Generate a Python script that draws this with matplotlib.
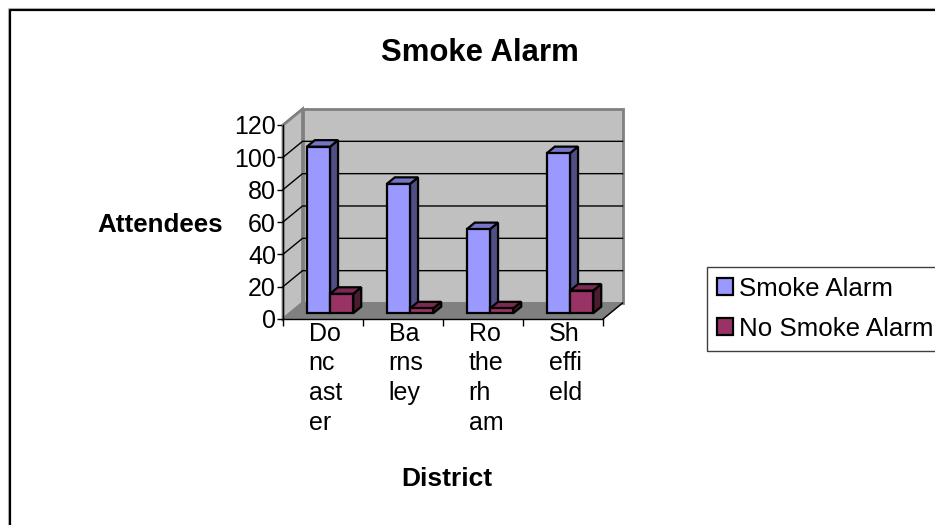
import matplotlib
matplotlib.use('Agg')
import matplotlib.pyplot as plt
from matplotlib.lines import Line2D
from matplotlib.patches import Patch, Polygon

plt.rcParams['font.family'] = ['Liberation Sans', 'DejaVu Sans']

district_labels = ['Do\nnc\nast\ner', 'Ba\nrns\nley', 'Ro\nthe\nrh\nam', 'Sh\neffi\neld']
smoke_alarm = [103, 80, 52, 99]
no_smoke_alarm = [12, 3, 3, 14]
y_ticks = [0, 20, 40, 60, 80, 100, 120]

W, H = 935, 525
# 3d look: how far the back wall sits from the front axis, in data units
DEPTH_X = 0.244
DEPTH_Y = 9.9
BAR_W = 0.29
BAR_D0 = 0.36
BAR_D1 = 0.77

BLUE = ('#9999FF', '#4F4F85', '#7575C6')
RED = ('#993366', '#4D1A33', '#7A2952')


def px_box(left, top, right, bottom):
    return [left / W, 1 - bottom / H, (right - left) / W, (bottom - top) / H]


def poly(ax, pts, color, edge='black', lw=1.6, z=3):
    ax.add_patch(Polygon(pts, closed=True, facecolor=color, edgecolor=edge,
                         linewidth=lw, clip_on=False, zorder=z,
                         joinstyle='miter'))


def bar3d(ax, x0, x1, val, colors, z):
    ax0, ay0 = BAR_D0 * DEPTH_X, BAR_D0 * DEPTH_Y
    ax1, ay1 = BAR_D1 * DEPTH_X, BAR_D1 * DEPTH_Y
    front, side, top = colors
    poly(ax, [(x1 + ax0, ay0), (x1 + ax1, ay1), (x1 + ax1, val + ay1),
              (x1 + ax0, val + ay0)], side, z=z)
    poly(ax, [(x0 + ax0, val + ay0), (x1 + ax0, val + ay0),
              (x1 + ax1, val + ay1), (x0 + ax1, val + ay1)], top, z=z)
    poly(ax, [(x0 + ax0, ay0), (x1 + ax0, ay0), (x1 + ax0, val + ay0),
              (x0 + ax0, val + ay0)], front, z=z)


fig = plt.figure(figsize=(W / 100, H / 100), dpi=100)
ax = fig.add_axes(px_box(283, 125, 603, 319))
ax.patch.set_alpha(0)
n = len(district_labels)
ax.set_xlim(0, n)
ax.set_ylim(0, 120)

# walls and floor
poly(ax, [(DEPTH_X, DEPTH_Y), (n + DEPTH_X, DEPTH_Y), (n + DEPTH_X, 120 + DEPTH_Y),
          (DEPTH_X, 120 + DEPTH_Y)], '#C0C0C0', edge='#808080', lw=2, z=1)
poly(ax, [(0, 0), (DEPTH_X, DEPTH_Y), (DEPTH_X, 120 + DEPTH_Y), (0, 120)],
     '#C0C0C0', edge='#808080', lw=2, z=1)
poly(ax, [(0, 0), (n, 0), (n + DEPTH_X, DEPTH_Y), (DEPTH_X, DEPTH_Y)],
     '#808080', edge='#808080', lw=1, z=1.5)
ax.plot([n, n + DEPTH_X], [0, DEPTH_Y], color='black', lw=1, clip_on=False, zorder=2)

for v in y_ticks[1:-1]:
    ax.plot([0, DEPTH_X, n + DEPTH_X], [v, v + DEPTH_Y, v + DEPTH_Y],
            color='black', lw=1, clip_on=False, zorder=2)
ax.plot([0, DEPTH_X], [120, 120 + DEPTH_Y], color='#808080', lw=1.5, clip_on=False, zorder=2)

for i in range(n):
    mid = i + 0.5
    bar3d(ax, mid - BAR_W, mid, smoke_alarm[i], BLUE, 3 + i * 0.1)
    bar3d(ax, mid, mid + BAR_W, no_smoke_alarm[i], RED, 3.05 + i * 0.1)

for s in ['top', 'right']:
    ax.spines[s].set_visible(False)
for s in ['left', 'bottom']:
    ax.spines[s].set_linewidth(1)
    ax.spines[s].set_zorder(4)

ax.set_yticks(y_ticks)
ax.tick_params(axis='y', labelsize=18, length=4, width=1, pad=1)
ax.set_xticks(range(n + 1))
ax.set_xticklabels([])
ax.tick_params(axis='x', which='major', length=5, width=1)
# labels start at a fixed spot in each category and are left aligned
ax.set_xticks([i + 0.32 for i in range(n)], minor=True)
ax.set_xticklabels(district_labels, minor=True, fontsize=18, linespacing=1.3,
                   ha='left', multialignment='left')
ax.tick_params(axis='x', which='minor', length=0, pad=2)

fig.text(480 / W, 1 - 53 / H, 'Smoke Alarm', fontsize=22.4, fontweight='bold',
         ha='center', va='center')
fig.text(160 / W, 1 - 225 / H, 'Attendees', fontsize=18.7, fontweight='bold',
         ha='center', va='center')
fig.text(447 / W, 1 - 479 / H, 'District', fontsize=19, fontweight='bold',
         ha='center', va='center')

handles = [Patch(facecolor=BLUE[0], edgecolor='black', linewidth=1.6, label='Smoke Alarm'),
           Patch(facecolor=RED[0], edgecolor='black', linewidth=1.6, label='No Smoke Alarm')]
fig.legend(handles=handles, loc='upper left', bbox_to_anchor=(707 / W, 1 - 267 / H),
           borderaxespad=0, fontsize=18.6, fancybox=False, framealpha=1,
           edgecolor='#404040', handlelength=0.62, handleheight=0.62,
           handletextpad=0.25, labelspacing=0.62, borderpad=0.38)

# outer chart frame, only the top and left sides fall inside the image
fig.add_artist(Line2D([8 / W, 8 / W, 1], [0, 1 - 8 / H, 1 - 8 / H],
                      color='#C0C0C0', lw=0.8, transform=fig.transFigure))
fig.add_artist(Line2D([9.5 / W, 9.5 / W, 1], [0, 1 - 9.5 / H, 1 - 9.5 / H],
                      color='black', lw=1.6, transform=fig.transFigure))

fig.savefig('out.png', dpi=100)
